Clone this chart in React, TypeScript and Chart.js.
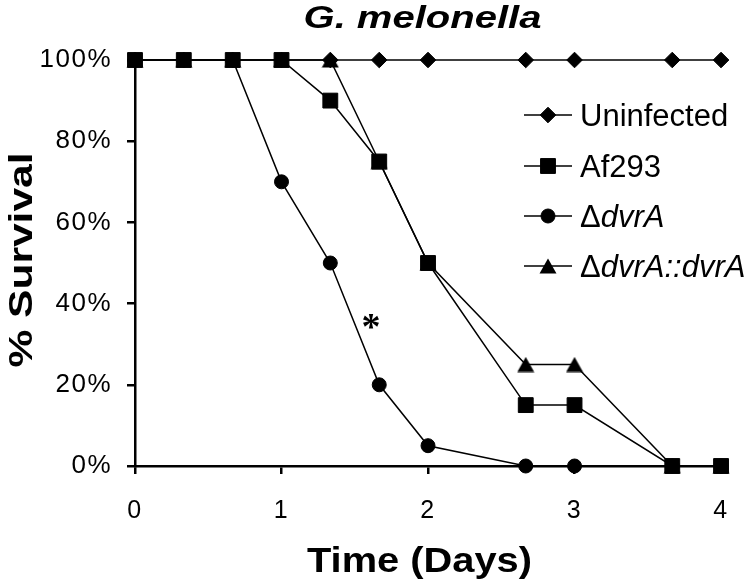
import { useEffect, useRef } from "react";
import { Chart, registerables } from "chart.js";

Chart.register(...registerables);

// ---- data ----
const days = [0, 0.333, 0.667, 1, 1.333, 1.667, 2, 2.667, 3, 3.667, 4];
const uninfected = [100, 100, 100, 100, 100, 100, 100, 100, 100, 100, 100];
const af293 = [100, 100, 100, 100, 90, 75, 50, 15, 15, 0, 0];
const dvrA = [100, 100, 100, 70, 50, 20, 5, 0, 0, 0, 0];
const dvrAComp = [100, 100, 100, 100, 100, 75, 50, 25, 25, 0, 0];

const xTickLabels = ["0", "1", "2", "3", "4"];
const yTickLabels = ["0%", "20%", "40%", "60%", "80%", "100%"];

const titleText = "G. melonella";
const xTitle = "Time (Days)";
const yTitle = "% Survival";

type Seg = { t: string; i: boolean };
const legendUninfected: Seg[] = [{ t: "Uninfected", i: false }];
const legendAf293: Seg[] = [{ t: "Af293", i: false }];
const legendDvrA: Seg[] = [{ t: "Δ", i: false }, { t: "dvrA", i: true }];
const legendComp: Seg[] = [{ t: "Δ", i: false }, { t: "dvrA::dvrA", i: true }];

const asteriskText = "*";
const asteriskAt = { x: 1.61, y: 35.5 };

const FONT = "'Liberation Sans', Arial, Helvetica, sans-serif";

function makeTriangle(): HTMLCanvasElement {
  const c = document.createElement("canvas");
  c.width = 18;
  c.height = 16;
  const g = c.getContext("2d")!;
  g.fillStyle = "#000";
  g.beginPath();
  g.moveTo(9, 0.5);
  g.lineTo(17.5, 15.5);
  g.lineTo(0.5, 15.5);
  g.closePath();
  g.fill();
  return c;
}

function drawMarker(ctx: CanvasRenderingContext2D, style: any, r: number, x: number, y: number) {
  ctx.save();
  ctx.fillStyle = "#000";
  ctx.strokeStyle = "#000";
  ctx.lineWidth = 1;
  if (typeof style !== "string") {
    ctx.drawImage(style, x - style.width / 2, y - style.height / 2);
    ctx.restore();
    return;
  }
  ctx.beginPath();
  if (style === "circle") {
    ctx.arc(x, y, r, 0, Math.PI * 2);
  } else if (style === "rect") {
    const s = r * Math.SQRT1_2;
    ctx.rect(x - s, y - s, 2 * s, 2 * s);
  } else if (style === "rectRot") {
    ctx.moveTo(x - r, y);
    ctx.lineTo(x, y - r);
    ctx.lineTo(x + r, y);
    ctx.lineTo(x, y + r);
    ctx.closePath();
  }
  ctx.fill();
  ctx.stroke();
  ctx.restore();
}

export default function App() {
  const ref = useRef<HTMLCanvasElement | null>(null);

  useEffect(() => {
    if (!ref.current) return;
    const tri = makeTriangle();

    const series = [
      { label: "Uninfected", values: uninfected, style: "rectRot" as any, radius: 7.8, order: 3, legend: legendUninfected },
      { label: "Af293", values: af293, style: "rect" as any, radius: 10.5, order: 0, legend: legendAf293 },
      { label: "ΔdvrA", values: dvrA, style: "circle" as any, radius: 7, order: 1, legend: legendDvrA },
      { label: "ΔdvrA::dvrA", values: dvrAComp, style: tri as any, radius: 9, order: 2, legend: legendComp },
    ];

    const overlay = {
      id: "overlay",
      beforeDraw(chart: any) {
        const ctx = chart.ctx as any;
        ctx.letterSpacing = "1.5px";
      },
      afterDraw(chart: any) {
        const ctx = chart.ctx as CanvasRenderingContext2D & { letterSpacing: string };
        const area = chart.chartArea;
        ctx.save();
        ctx.letterSpacing = "0px";
        ctx.fillStyle = "#000";
        ctx.textBaseline = "alphabetic";
        ctx.textAlign = "left";

        // draw text stretched along its direction so that it spans `span` px, centred at (cx, y)
        const fitted = (text: string, font: string, span: number, cx: number, y: number) => {
          ctx.font = font;
          const w = ctx.measureText(text).width;
          const k = span / w;
          ctx.save();
          ctx.translate(cx, y);
          ctx.scale(k, 1);
          ctx.fillText(text, -w / 2, 0);
          ctx.restore();
        };

        // Title
        fitted(titleText, `italic bold 32px ${FONT}`, 238, 422.5, 28);

        // X axis title
        fitted(xTitle, `bold 35px ${FONT}`, 225, 419.5, 572);

        // Y axis title
        ctx.save();
        ctx.translate(32, 260);
        ctx.rotate(-Math.PI / 2);
        fitted(yTitle, `bold 34px ${FONT}`, 215, 0, 0);
        ctx.restore();

        // Legend
        const rowY = [115, 166, 216, 266];
        series.forEach((s, k) => {
          const y = rowY[k];
          ctx.strokeStyle = "#000";
          ctx.lineWidth = 1.5;
          ctx.beginPath();
          ctx.moveTo(524, y);
          ctx.lineTo(572, y);
          ctx.stroke();
          drawMarker(ctx, s.style, s.radius, 548, y);
          let x = 580;
          for (const seg of s.legend) {
            ctx.font = `${seg.i ? "italic " : ""}31px ${FONT}`;
            ctx.fillText(seg.t, x, y + 11);
            x += ctx.measureText(seg.t).width;
          }
        });

        // Asterisk annotation
        const px = chart.scales.x.getPixelForValue(asteriskAt.x);
        const py = chart.scales.y.getPixelForValue(asteriskAt.y);
        const serif = `'Liberation Serif', 'Times New Roman', serif`;
        ctx.font = `bold 100px ${serif}`;
        const m0 = ctx.measureText(asteriskText);
        const bw0 = m0.actualBoundingBoxLeft + m0.actualBoundingBoxRight;
        const size = (100 * 16) / bw0;
        ctx.font = `bold ${size}px ${serif}`;
        const m = ctx.measureText(asteriskText);
        const bx = px - (m.actualBoundingBoxRight - m.actualBoundingBoxLeft) / 2;
        const by = py + (m.actualBoundingBoxAscent - m.actualBoundingBoxDescent) / 2;
        ctx.fillText(asteriskText, bx, by);

        ctx.restore();
      },
    };

    const chart = new Chart(ref.current, {
      type: "line",
      data: {
        datasets: series.map((s) => ({
          label: s.label,
          data: days.map((d, i) => ({ x: d, y: s.values[i] })),
          borderColor: "#000",
          borderWidth: 1.5,
          backgroundColor: "#000",
          pointBackgroundColor: "#000",
          pointBorderColor: "#000",
          pointBorderWidth: 1,
          pointStyle: s.style,
          pointRadius: s.radius,
          pointHoverRadius: s.radius,
          tension: 0,
          fill: false,
          clip: false as any,
          order: s.order,
        })),
      },
      options: {
        animation: false,
        responsive: false,
        events: [],
        layout: { padding: { top: 60, right: 28, left: 0, bottom: 0 } },
        plugins: {
          legend: { display: false },
          title: { display: false },
          tooltip: { enabled: false },
        },
        scales: {
          x: {
            type: "linear",
            min: 0,
            max: 4,
            ticks: {
              stepSize: 1,
              autoSkip: false,
              maxRotation: 0,
              color: "#000",
              padding: 22,
              font: { family: FONT, size: 25 },
              callback: (_v: any, i: number) => xTickLabels[i],
            },
            grid: {
              drawOnChartArea: false,
              drawTicks: true,
              tickLength: 8,
              color: "#000",
              lineWidth: 2.5,
            },
            border: { display: true, color: "#000", width: 2.5 },
            afterFit: (s: any) => {
              s.height = 117;
            },
          },
          y: {
            type: "linear",
            min: 0,
            max: 100,
            ticks: {
              stepSize: 20,
              autoSkip: false,
              color: "#000",
              padding: 15,
              font: { family: FONT, size: 26 },
              callback: (_v: any, i: number) => yTickLabels[i],
            },
            grid: {
              drawOnChartArea: false,
              drawTicks: true,
              tickLength: 8,
              color: "#000",
              lineWidth: 2.5,
            },
            border: { display: true, color: "#000", width: 2.5 },
            afterFit: (s: any) => {
              s.width = 135;
            },
          },
        },
      } as any,
      plugins: [overlay],
    });

    return () => chart.destroy();
  }, []);

  return (
    <div style={{ position: "absolute", left: 0, top: 0, width: 750, height: 583, background: "#fff" }}>
      <canvas ref={ref} width={750} height={583} style={{ display: "block" }} />
    </div>
  );
}
